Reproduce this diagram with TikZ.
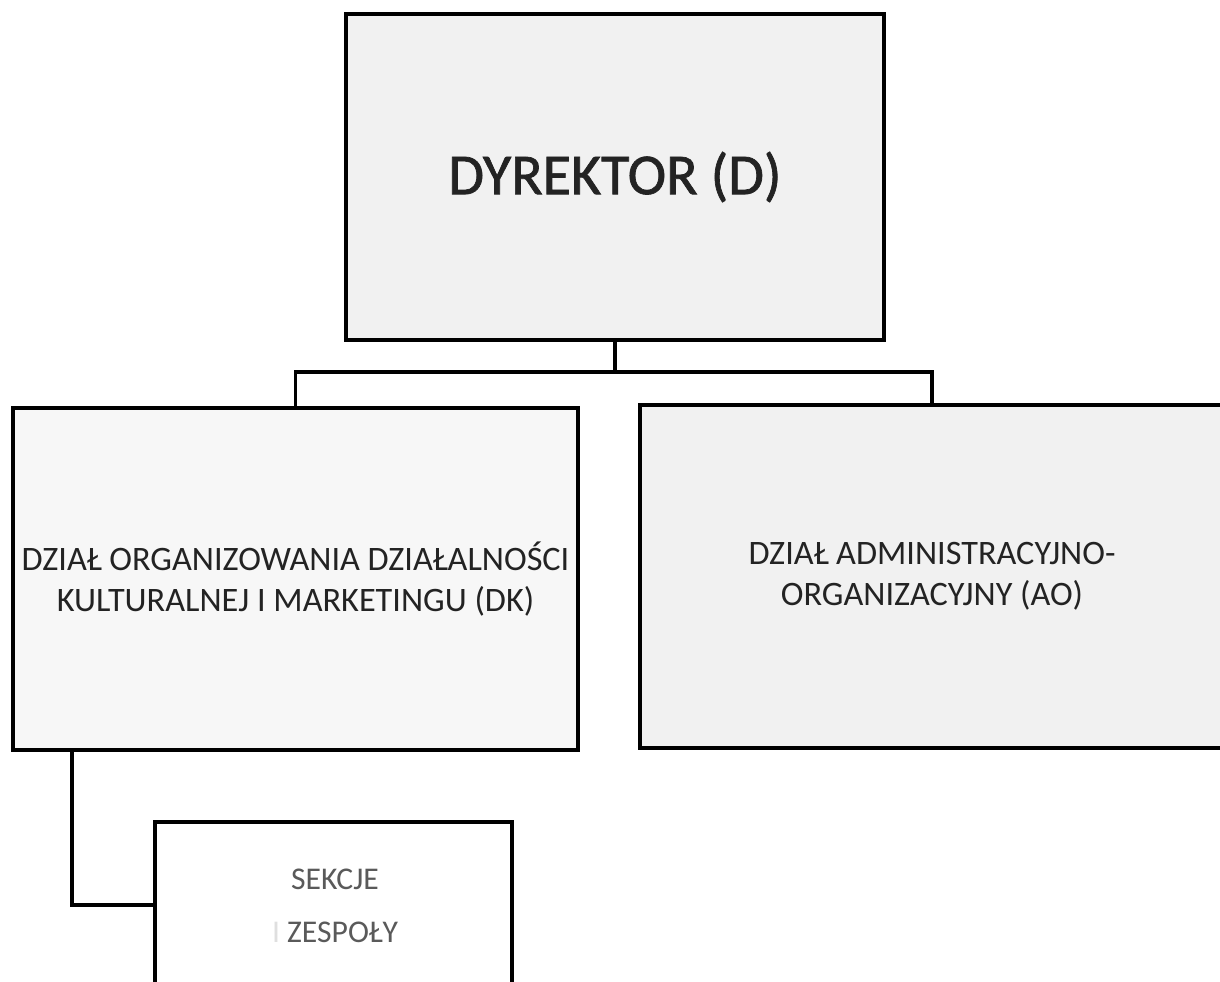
\documentclass[tikz,border=0pt]{standalone}
\usepackage{fontspec}
\setmainfont{Carlito}
\newfontfamily\heavyfont[FakeBold=1.2]{Carlito}
\usetikzlibrary{positioning}

\begin{document}
\begin{tikzpicture}

% Define colors
\definecolor{boxgray}{RGB}{241, 241, 241}
\definecolor{boxlight}{RGB}{247, 247, 247}
\definecolor{inkgray}{RGB}{35, 35, 35}

\tikzset{
  unitbox/.style={draw, line width=2.1pt, fill=boxgray, align=center, text=inkgray},
  bigtext/.style={font=\heavyfont\fontsize{33}{40}\selectfont},
  midtext/.style={font=\fontsize{19.5}{23.3}\selectfont},
  link/.style={line width=2.1pt}
}

% Frame of the picture
\useasboundingbox (0, 0) rectangle (24.4, -19.64);
\clip (0, 0) rectangle (24.4, -19.64);

% Draw the boxes
\node[unitbox, bigtext, minimum width=10.76cm, minimum height=6.52cm] (dyr) at (12.3, -3.54) {DYREKTOR (D)};
\node[unitbox, midtext, fill=boxlight, minimum width=11.3cm, minimum height=6.84cm] (dk) at (5.91, -11.58)
  {DZIAŁ ORGANIZOWANIA DZIAŁALNOŚCI\\KULTURALNEJ I MARKETINGU (DK)};
\node[unitbox, midtext, minimum width=11.68cm, minimum height=6.86cm] (ao) at (18.64, -11.53)
  {DZIAŁ ADMINISTRACYJNO-\\ORGANIZACYJNY (AO)};
\node[unitbox, fill=white, anchor=north, minimum width=7.14cm, minimum height=4.4cm] (sek) at (6.67, -16.4) {};
\node[font=\fontsize{18}{30}\selectfont, align=center, text=inkgray!75] (sektxt) at (6.7, -18.12)
  {SEKCJE\\{\color{gray!25}I} ZESPOŁY};

% Draw the connectors
\coordinate (bus) at (12.3, -7.44);
\draw[link] (dyr.south) -- (bus) -| (dk.north);
\draw[link] (bus) -| (ao.north);
\coordinate (drop) at (1.44, -18.1);
\draw[link] (drop |- dk.south) -- (drop) -- (drop -| sek.west);

\end{tikzpicture}
\end{document}
